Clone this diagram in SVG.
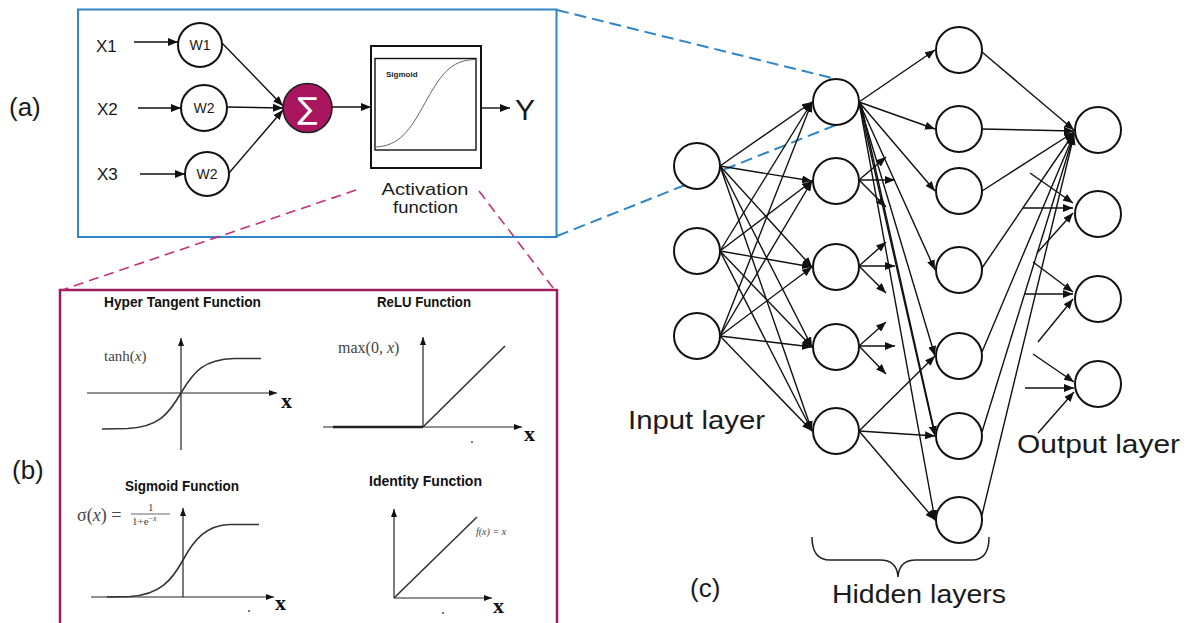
<svg xmlns="http://www.w3.org/2000/svg" width="1195" height="623" viewBox="0 0 1195 623">
  <style>
    .lbl { font-family: "Liberation Sans", Arial, sans-serif; fill: #1a1a1a; }
    .node { fill: #fff; stroke: #111; stroke-width: 2; }
    .edge { stroke: #111; stroke-width: 1.4; fill: none; }
    .edgeA { stroke: #111; stroke-width: 1.4; fill: none; marker-end: url(#arr); }
    .axis { stroke: #222; stroke-width: 1.2; fill: none; marker-end: url(#arrS); }
    .curve { stroke: #333; stroke-width: 1.6; fill: none; }
    .math { font-family: "Liberation Serif", "Times New Roman", serif; fill: #444; }
    .xlab { font-family: "Liberation Serif", "Times New Roman", serif; font-weight: bold; font-size: 22px; fill: #111; }
    .ttl { font-family: "Liberation Sans", Arial, sans-serif; font-weight: bold; font-size: 14px; fill: #111; }
  </style>
  <defs>
    <marker id="arr" viewBox="0 0 10 8" refX="10" refY="4" markerWidth="10" markerHeight="8" markerUnits="userSpaceOnUse" orient="auto">
      <path d="M0,0 L10,4 L0,8 z" fill="#111"/>
    </marker>
    <marker id="arrS" viewBox="0 0 8 6" refX="8" refY="3" markerWidth="8" markerHeight="6" markerUnits="userSpaceOnUse" orient="auto">
      <path d="M0,0 L8,3 L0,6 z" fill="#111"/>
    </marker>
  </defs>

  <rect width="1195" height="623" fill="#fff"/>

  <!-- panel labels -->
  <text class="lbl" x="9" y="116" font-size="26">(a)</text>
  <text class="lbl" x="12" y="479" font-size="26">(b)</text>
  <text class="lbl" x="690" y="597" font-size="26">(c)</text>

  <!-- (a) single neuron -->
  <g id="panel-a">
    <rect x="78" y="9.5" width="478.5" height="227.5" fill="none" stroke="#2E86C8" stroke-width="2"/>
    <text class="lbl" x="96" y="52" font-size="17">X1</text>
    <text class="lbl" x="97" y="115" font-size="17">X2</text>
    <text class="lbl" x="97" y="180" font-size="17">X3</text>
  </g>
  <g id="w1">
    <circle class="node" cx="200" cy="45" r="22" stroke-width="1.6"/>
    <text class="lbl" x="200" y="50" font-size="14" text-anchor="middle">W1</text>
  </g>
  <g id="w2">
    <circle class="node" cx="204" cy="108" r="23" stroke-width="1.6"/>
    <text class="lbl" x="204" y="113" font-size="14" text-anchor="middle">W2</text>
  </g>
  <g id="w3">
    <circle class="node" cx="207" cy="174" r="22" stroke-width="1.6"/>
    <text class="lbl" x="207" y="179" font-size="14" text-anchor="middle">W2</text>
  </g>
  <g id="sum">
    <circle cx="307.5" cy="108" r="24.5" fill="#A9155F" stroke="#222" stroke-width="1.6"/>
    <text x="307.5" y="119" font-family="'DejaVu Sans', sans-serif" font-size="30" font-weight="normal" fill="#fff" text-anchor="middle">∑</text>
  </g>
  <g id="activation">
    <rect x="371" y="46" width="110" height="122" fill="#fff" stroke="#111" stroke-width="2"/>
    <rect x="375" y="58.5" width="101" height="91.5" fill="none" stroke="#111" stroke-width="1.4"/>
    <path d="M375,147 C400,146 410,130 425,103 C440,76 450,60 475,59.5" fill="none" stroke="#666" stroke-width="1"/>
    <text x="386" y="77" font-family="'Liberation Sans', Arial, sans-serif" font-weight="bold" font-size="8" fill="#222">Sigmoid</text>
    <text class="lbl" x="381.5" y="195" font-size="17" textLength="87" lengthAdjust="spacingAndGlyphs">Activation</text>
    <text class="lbl" x="393" y="213" font-size="17" textLength="65" lengthAdjust="spacingAndGlyphs">function</text>
  </g>
  <g id="output-y">
    <text class="lbl" x="515" y="120" font-size="30">Y</text>
  </g>

  <!-- (b) activation function plots -->
  <g id="panel-b">
    <rect x="60" y="290" width="497" height="360" fill="none" stroke="#9B1D5C" stroke-width="2.5"/>
  </g>
  <g id="tanh-plot">
    <text class="ttl" x="104" y="307" textLength="157" lengthAdjust="spacingAndGlyphs">Hyper Tangent Function</text>
    <line class="axis" x1="181" y1="450" x2="181" y2="338"/>
    <line class="axis" x1="87" y1="393" x2="277" y2="393"/>
    <path class="curve" d="M102,429 L128,428.5 C158,427 168,415 181,393 C194,371 204,359.5 234,358.5 L261,358.5"/>
    <text class="math" x="104" y="361" font-size="15">tanh(<tspan font-style="italic">x</tspan>)</text>
    <text class="xlab" x="281" y="408">x</text>
  </g>
  <g id="relu-plot">
    <text class="ttl" x="377" y="307" textLength="94" lengthAdjust="spacingAndGlyphs">ReLU Function</text>
    <line class="axis" x1="423" y1="427" x2="423" y2="337"/>
    <line class="axis" x1="323" y1="427" x2="522" y2="427"/>
    <line x1="333" y1="427" x2="423" y2="427" stroke="#222" stroke-width="2.4"/>
    <line x1="423" y1="427" x2="505" y2="346" stroke="#333" stroke-width="1.6"/>
    <text class="math" x="338" y="353" font-size="16">max(0, <tspan font-style="italic">x</tspan>)</text>
    <text class="xlab" x="524" y="441">x</text>
    <circle cx="472" cy="442" r="0.9" fill="#336"/>
  </g>
  <g id="sigmoid-plot">
    <text class="ttl" x="125" y="491" textLength="114" lengthAdjust="spacingAndGlyphs">Sigmoid Function</text>
    <line class="axis" x1="183" y1="597" x2="183" y2="508"/>
    <line class="axis" x1="91" y1="597" x2="274" y2="597"/>
    <path class="curve" d="M107,597 L130,596.5 C160,595 172,580 183,560 C194,540 206,525 230,524.5 L259,524.5"/>
    <text class="math" x="77" y="521" font-size="18">σ(<tspan font-style="italic">x</tspan>) =</text>
    <text class="math" x="148" y="511" font-size="11">1</text>
    <line x1="131" y1="514" x2="170" y2="514" stroke="#555" stroke-width="0.9"/>
    <text class="math" x="132" y="525" font-size="11">1+e<tspan font-size="8" dy="-4">−<tspan font-style="italic">x</tspan></tspan></text>
    <text class="xlab" x="275" y="610">x</text>
    <circle cx="249" cy="611" r="0.9" fill="#336"/>
  </g>
  <g id="identity-plot">
    <text class="ttl" x="369" y="486" textLength="113" lengthAdjust="spacingAndGlyphs">Identity Function</text>
    <line class="axis" x1="394" y1="598" x2="394" y2="509"/>
    <line class="axis" x1="394" y1="598" x2="492" y2="598"/>
    <line x1="394" y1="598" x2="477" y2="517" stroke="#333" stroke-width="1.6"/>
    <text class="math" x="476" y="535" font-size="10" font-style="italic">f(x) = x</text>
    <text class="xlab" x="493" y="613">x</text>
    <circle cx="443" cy="613" r="0.9" fill="#336"/>
  </g>

  <!-- zoom guides between panels -->
  <g id="guides" fill="none">
    <line x1="557" y1="10" x2="836" y2="79" stroke="#2E86C8" stroke-width="2" stroke-dasharray="12 6"/>
    <line x1="557" y1="236" x2="836" y2="125" stroke="#2E86C8" stroke-width="2" stroke-dasharray="12 6"/>
    <line x1="356" y1="190" x2="62" y2="290" stroke="#C5307A" stroke-width="1.6" stroke-dasharray="10 6"/>
    <line x1="479" y1="191" x2="557" y2="293" stroke="#C5307A" stroke-width="1.6" stroke-dasharray="10 6"/>
  </g>

  <!-- connectors -->
  <g id="connectors">
    <!-- neuron inputs -->
    <line class="edgeA" x1="134" y1="42" x2="178" y2="42"/>
    <line class="edgeA" x1="138" y1="108" x2="181" y2="108"/>
    <line class="edgeA" x1="140" y1="174" x2="185" y2="174"/>
    <line class="edgeA" x1="222" y1="43" x2="283" y2="106"/>
    <line class="edgeA" x1="227" y1="107" x2="283" y2="108"/>
    <line class="edgeA" x1="229" y1="173" x2="283" y2="110"/>
    <line class="edgeA" x1="332" y1="107" x2="371" y2="107"/>
    <line class="edgeA" x1="481" y1="108" x2="510" y2="108"/>

    <!-- input layer to hidden layer 1 -->
    <line class="edgeA" x1="720" y1="166" x2="812" y2="102"/>
    <line class="edgeA" x1="720" y1="166" x2="812" y2="181"/>
    <line class="edgeA" x1="720" y1="166" x2="812" y2="267"/>
    <line class="edgeA" x1="720" y1="166" x2="812" y2="347"/>
    <line class="edgeA" x1="720" y1="166" x2="812" y2="431"/>
    <line class="edgeA" x1="720" y1="251" x2="812" y2="102"/>
    <line class="edgeA" x1="720" y1="251" x2="812" y2="181"/>
    <line class="edgeA" x1="720" y1="251" x2="812" y2="267"/>
    <line class="edgeA" x1="720" y1="251" x2="812" y2="347"/>
    <line class="edgeA" x1="720" y1="251" x2="812" y2="431"/>
    <line class="edgeA" x1="720" y1="336" x2="812" y2="102"/>
    <line class="edgeA" x1="720" y1="336" x2="812" y2="181"/>
    <line class="edgeA" x1="720" y1="336" x2="812" y2="267"/>
    <line class="edgeA" x1="720" y1="336" x2="812" y2="347"/>
    <line class="edgeA" x1="720" y1="336" x2="812" y2="431"/>

    <!-- hidden layer 1 to hidden layer 2 -->
    <line class="edgeA" x1="859" y1="102" x2="935" y2="50"/>
    <line class="edgeA" x1="859" y1="102" x2="935" y2="129"/>
    <line class="edgeA" x1="859" y1="102" x2="935" y2="191"/>
    <line class="edgeA" x1="859" y1="102" x2="935" y2="270"/>
    <line class="edgeA" x1="859" y1="102" x2="935" y2="356"/>
    <line class="edgeA" x1="859" y1="102" x2="935" y2="436"/>
    <line class="edge" x1="861" y1="104" x2="935" y2="434"/>
    <line class="edgeA" x1="859" y1="102" x2="935" y2="520"/>
    <line class="edgeA" x1="859" y1="180" x2="886" y2="157"/>
    <line class="edgeA" x1="859" y1="180" x2="895" y2="180"/>
    <line class="edgeA" x1="859" y1="180" x2="886" y2="207"/>
    <line class="edgeA" x1="859" y1="266" x2="886" y2="242"/>
    <line class="edgeA" x1="859" y1="266" x2="895" y2="266"/>
    <line class="edgeA" x1="859" y1="266" x2="886" y2="293"/>
    <line class="edgeA" x1="859" y1="346" x2="886" y2="322"/>
    <line class="edgeA" x1="859" y1="346" x2="895" y2="346"/>
    <line class="edgeA" x1="859" y1="346" x2="886" y2="374"/>
    <line class="edgeA" x1="859" y1="431" x2="935" y2="356"/>
    <line class="edgeA" x1="859" y1="431" x2="935" y2="436"/>
    <line class="edgeA" x1="859" y1="431" x2="935" y2="520"/>

    <!-- hidden layer 2 to output layer -->
    <line class="edgeA" x1="982" y1="52" x2="1074" y2="130"/>
    <line class="edgeA" x1="982" y1="129" x2="1074" y2="131"/>
    <line class="edgeA" x1="982" y1="191" x2="1074" y2="132"/>
    <line class="edgeA" x1="982" y1="268" x2="1074" y2="133"/>
    <line class="edgeA" x1="982" y1="352" x2="1074" y2="134"/>
    <line class="edgeA" x1="982" y1="432" x2="1074" y2="134"/>
    <line class="edgeA" x1="982" y1="515" x2="1074" y2="135"/>
    <line class="edgeA" x1="1030" y1="173" x2="1073" y2="203"/>
    <line class="edgeA" x1="1023" y1="208" x2="1073" y2="208"/>
    <line class="edgeA" x1="1037" y1="253" x2="1073" y2="213"/>
    <line class="edgeA" x1="1033" y1="262" x2="1073" y2="292"/>
    <line class="edgeA" x1="1025" y1="294" x2="1073" y2="294"/>
    <line class="edgeA" x1="1038" y1="342" x2="1073" y2="299"/>
    <line class="edgeA" x1="1033" y1="354" x2="1074" y2="382"/>
    <line class="edgeA" x1="1025" y1="388" x2="1074" y2="388"/>
    <line class="edgeA" x1="1038" y1="433" x2="1074" y2="392"/>
  </g>

  <!-- (c) network nodes -->
  <g id="input-layer">
    <circle id="in1" class="node" cx="697" cy="166" r="23"/>
    <circle id="in2" class="node" cx="697" cy="251" r="23"/>
    <circle id="in3" class="node" cx="697" cy="336" r="23"/>
    <text class="lbl" x="628" y="429" font-size="25" textLength="137" lengthAdjust="spacingAndGlyphs">Input layer</text>
  </g>
  <g id="hidden-layer-1">
    <circle id="h1a" class="node" cx="836" cy="102" r="23"/>
    <circle id="h1b" class="node" cx="836" cy="181" r="23"/>
    <circle id="h1c" class="node" cx="836" cy="267" r="23"/>
    <circle id="h1d" class="node" cx="836" cy="347" r="23"/>
    <circle id="h1e" class="node" cx="836" cy="431" r="23"/>
  </g>
  <g id="hidden-layer-2">
    <circle id="h2a" class="node" cx="959" cy="50" r="23"/>
    <circle id="h2b" class="node" cx="959" cy="129" r="23"/>
    <circle id="h2c" class="node" cx="959" cy="191" r="23"/>
    <circle id="h2d" class="node" cx="959" cy="270" r="23"/>
    <circle id="h2e" class="node" cx="959" cy="356" r="23"/>
    <circle id="h2f" class="node" cx="959" cy="436" r="23"/>
    <circle id="h2g" class="node" cx="959" cy="520" r="23"/>
  </g>
  <g id="hidden-brace">
    <path d="M812,537 Q812,560 830,560 L880,560 Q897,560 898,577 Q899,560 916,560 L972,560 Q989,560 989,537" fill="none" stroke="#222" stroke-width="1.5"/>
    <text class="lbl" x="832" y="603" font-size="25" textLength="174" lengthAdjust="spacingAndGlyphs">Hidden layers</text>
  </g>
  <g id="output-layer">
    <circle id="out1" class="node" cx="1098" cy="130" r="23"/>
    <circle id="out2" class="node" cx="1098" cy="214" r="23"/>
    <circle id="out3" class="node" cx="1098" cy="299" r="23"/>
    <circle id="out4" class="node" cx="1098" cy="384" r="23"/>
    <text class="lbl" x="1017" y="453" font-size="26" textLength="163" lengthAdjust="spacingAndGlyphs">Output layer</text>
  </g>
</svg>
